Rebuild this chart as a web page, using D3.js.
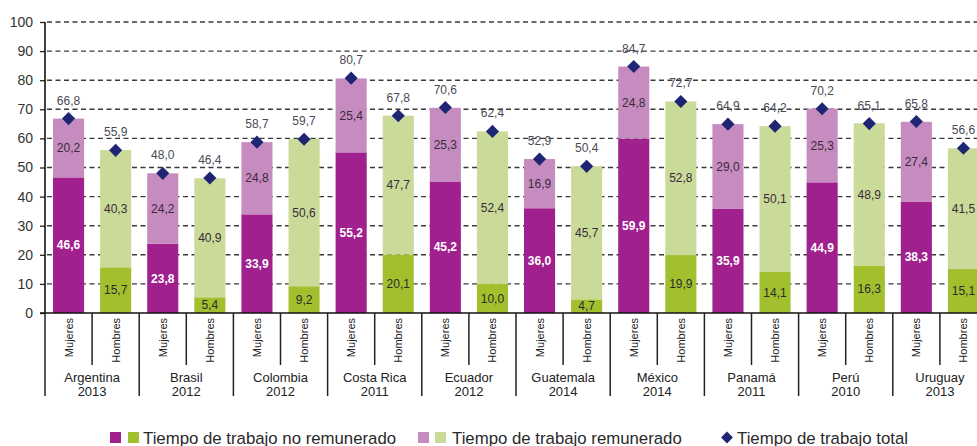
<!DOCTYPE html>
<html><head><meta charset="utf-8">
<script src="https://cdn.jsdelivr.net/npm/d3@7"></script>
<style>
html,body{margin:0;padding:0;background:#fff;overflow:hidden}
svg{display:block;font-family:"Liberation Sans",Arial,sans-serif}
</style></head><body>
<svg id="c" width="977" height="446"></svg>
<script>
const countries = ["Argentina","Brasil","Colombia","Costa Rica","Ecuador","Guatemala","México","Panamá","Perú","Uruguay"];
const years = ["2013","2012","2012","2011","2012","2014","2014","2011","2010","2013"];
const sexes = ["Mujeres","Hombres"];
const unpaidM = [46.6,23.8,33.9,55.2,45.2,36.0,59.9,35.9,44.9,38.3];
const paidM   = [20.2,24.2,24.8,25.4,25.3,16.9,24.8,29.0,25.3,27.4];
const totalM  = [66.8,48.0,58.7,80.7,70.6,52.9,84.7,64.9,70.2,65.8];
const unpaidH = [15.7,5.4,9.2,20.1,10.0,4.7,19.9,14.1,16.3,15.1];
const paidH   = [40.3,40.9,50.6,47.7,52.4,45.7,52.8,50.1,48.9,41.5];
const totalH  = [55.9,46.4,59.7,67.8,62.4,50.4,72.7,64.2,65.1,56.6];
const yTicks = [0,10,20,30,40,50,60,70,80,90,100];
const legendLabels = ["Tiempo de trabajo no remunerado","Tiempo de trabajo remunerado","Tiempo de trabajo total"];

const colors = {unpaidM:"#A0208E", paidM:"#C68CC0", unpaidH:"#A2BF2E", paidH:"#CADA98", total:"#1E2572"};

const rows = [];
countries.forEach((c,i)=>{
  rows.push({key:c+"|M", country:c, sex:sexes[0], unpaid:unpaidM[i], paid:paidM[i], total:totalM[i], cu:colors.unpaidM, cp:colors.paidM, lblU:"#fff", boldU:true});
  rows.push({key:c+"|H", country:c, sex:sexes[1], unpaid:unpaidH[i], paid:paidH[i], total:totalH[i], cu:colors.unpaidH, cp:colors.paidH, lblU:"#2b2b2b", boldU:false});
});

const svg = d3.select("#c");
const x0 = 45, x1 = 987;
const y = d3.scaleLinear().domain([0,100]).range([313,22]);
const x = d3.scaleBand().domain(rows.map(r=>r.key)).range([x0,x1]).paddingInner(0.34).paddingOuter(0.17);
const xg = d3.scaleBand().domain(countries).range([x0,x1]);
const fmt = v => d3.format(".1f")(v).replace(".",",");

// grid
svg.append("g").selectAll("line").data(yTicks.filter(t=>t>0)).join("line")
  .attr("x1",x0+2).attr("x2",977).attr("y1",d=>y(d)).attr("y2",d=>y(d))
  .attr("stroke","#3a3a3a").attr("stroke-width",1.4).attr("stroke-dasharray","5,3.5");

// y axis
const yAxis = d3.axisLeft(y).tickValues(yTicks).tickSize(5).tickPadding(7).tickFormat(d3.format("d"));
const ga = svg.append("g").attr("transform",`translate(${x0},0)`).call(yAxis);
ga.select(".domain").remove();
ga.selectAll(".tick line").attr("stroke","#222").attr("stroke-width",1.3);
ga.selectAll(".tick text").attr("fill","#333").style("font-size","14px").style("font-family","'Liberation Sans',Arial,sans-serif");
svg.append("line").attr("x1",x0).attr("x2",x0).attr("y1",y(100)).attr("y2",y(0)).attr("stroke","#111").attr("stroke-width",1.6);

// bars
const bars = svg.append("g");
bars.selectAll("rect.u").data(rows).join("rect").attr("class","u")
  .attr("x",d=>x(d.key)).attr("width",x.bandwidth())
  .attr("y",d=>y(d.unpaid)).attr("height",d=>y(0)-y(d.unpaid)).attr("fill",d=>d.cu);
bars.selectAll("rect.p").data(rows).join("rect").attr("class","p")
  .attr("x",d=>x(d.key)).attr("width",x.bandwidth())
  .attr("y",d=>y(d.unpaid+d.paid)).attr("height",d=>y(d.unpaid)-y(d.unpaid+d.paid)).attr("fill",d=>d.cp);

// x axis baseline
svg.append("line").attr("x1",x0-5).attr("x2",977).attr("y1",y(0)).attr("y2",y(0)).attr("stroke","#111").attr("stroke-width",1.6);

// segment labels
const lab = svg.append("g").style("font-size","12px").attr("text-anchor","middle");
lab.selectAll("text.u").data(rows).join("text").attr("class","u")
  .attr("x",d=>x(d.key)+x.bandwidth()/2).attr("y",d=>y(d.unpaid/2)).attr("dy","0.35em")
  .attr("fill",d=>d.lblU).style("font-weight",d=>d.boldU?"bold":"normal").text(d=>fmt(d.unpaid));
lab.selectAll("text.p").data(rows).join("text").attr("class","p")
  .attr("x",d=>x(d.key)+x.bandwidth()/2).attr("y",d=>y(d.unpaid+d.paid/2)).attr("dy","0.35em")
  .attr("fill","#3a2b3a").text(d=>fmt(d.paid));

// total markers
const diamond = d3.symbol().type(d3.symbolDiamond2).size(110);
svg.append("g").selectAll("path").data(rows).join("path")
  .attr("d",diamond).attr("transform",d=>`translate(${x(d.key)+x.bandwidth()/2},${y(d.total)})`)
  .attr("fill",colors.total);
lab.selectAll("text.t").data(rows).join("text").attr("class","t")
  .attr("x",d=>x(d.key)+x.bandwidth()/2).attr("y",d=>y(d.total)-14)
  .attr("fill","#4a4a55").text(d=>fmt(d.total));

// x category labels
const xl = svg.append("g");
xl.selectAll("text.s").data(rows).join("text").attr("class","s")
  .attr("transform",d=>`translate(${x(d.key)+x.bandwidth()/2+4},318) rotate(-90)`)
  .attr("text-anchor","end").attr("fill","#222").style("font-size","11px").text(d=>d.sex);
// separators
const seps = [];
countries.forEach(c=>{ seps.push({x:xg(c), long:true}); seps.push({x:xg(c)+xg.bandwidth()/2, long:false}); });
xl.selectAll("line").data(seps).join("line")
  .attr("x1",d=>d.x).attr("x2",d=>d.x).attr("y1",y(0)).attr("y2",d=>d.long?396:365)
  .attr("stroke","#222").attr("stroke-width",1.5);
xl.selectAll("text.c").data(countries).join("text").attr("class","c")
  .attr("x",d=>xg(d)+xg.bandwidth()/2).attr("y",382).attr("text-anchor","middle")
  .attr("fill","#222").style("font-size","13px").text(d=>d);
xl.selectAll("text.yr").data(years).join("text").attr("class","yr")
  .attr("x",(d,i)=>xg(countries[i])+xg.bandwidth()/2).attr("y",396).attr("text-anchor","middle")
  .attr("fill","#222").style("font-size","13px").text(d=>d);

// legend
const lg = svg.append("g").style("font-size","16.8px").attr("fill","#2a2a2a");
const ly = 432;
lg.append("rect").attr("x",110).attr("y",ly).attr("width",11).attr("height",11).attr("fill",colors.unpaidM);
lg.append("rect").attr("x",128).attr("y",ly).attr("width",11).attr("height",11).attr("fill",colors.unpaidH);
lg.append("text").attr("x",143).attr("y",ly+11.5).text(legendLabels[0]);
lg.append("rect").attr("x",418).attr("y",ly).attr("width",11).attr("height",11).attr("fill",colors.paidM);
lg.append("rect").attr("x",435).attr("y",ly).attr("width",11).attr("height",11).attr("fill",colors.paidH);
lg.append("text").attr("x",452).attr("y",ly+11.5).text(legendLabels[1]);
lg.append("path").attr("d",d3.symbol().type(d3.symbolDiamond2).size(90)).attr("transform",`translate(727,${ly+5.5})`).attr("fill",colors.total);
lg.append("text").attr("x",737).attr("y",ly+11.5).text(legendLabels[2]);
</script>
</body></html>
